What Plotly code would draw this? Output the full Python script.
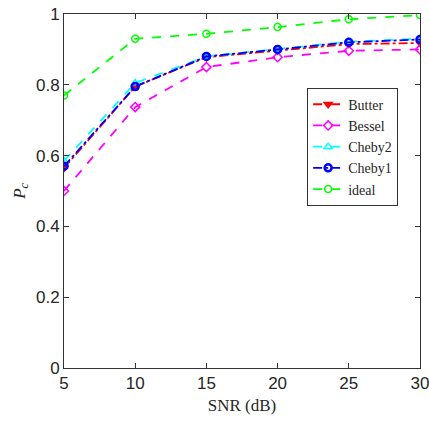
import plotly.graph_objects as go

snr = [5, 10, 15, 20, 25, 30]
butter = [0.565, 0.795, 0.878, 0.897, 0.915, 0.918]
bessel = [0.500, 0.737, 0.850, 0.878, 0.896, 0.900]
cheby2 = [0.585, 0.805, 0.880, 0.900, 0.922, 0.930]
cheby1 = [0.570, 0.795, 0.880, 0.900, 0.920, 0.928]
ideal = [0.770, 0.930, 0.944, 0.963, 0.985, 0.997]

series = [
    ("Butter", butter, "#ff0000", "dashdot", "triangle-down", 1.5),
    ("Bessel", bessel, "#ff00ff", "dash", "diamond-open", 1.5),
    ("Cheby2", cheby2, "#00ffff", "dash", "triangle-up-open", 1.5),
    ("Cheby1", cheby1, "#0000ff", "dashdot", "circle-open", 2.5),
    ("ideal", ideal, "#00ff00", "dash", "circle-open", 1.5),
]

fig = go.Figure()
for name, vals, color, dash, sym, mlw in series:
    fig.add_trace(go.Scatter(
        x=snr, y=vals, name=name, mode="lines+markers",
        line=dict(color=color, width=1.8, dash=dash),
        marker=dict(symbol=sym, size=7, color=color, line=dict(color=color, width=mlw)),
    ))

axis_common = dict(
    showline=True, linecolor="#333333", linewidth=1, mirror="ticks",
    ticks="inside", ticklen=5, tickcolor="#333333", showgrid=False, zeroline=False,
    automargin=False,
    tickfont=dict(family="Liberation Sans", size=17, color="#262626"),
)
fig.update_layout(
    width=440, height=421,
    margin=dict(l=64, r=20, t=14, b=53, pad=0),
    paper_bgcolor="white", plot_bgcolor="white",
    xaxis=dict(range=[5, 30], tickvals=[5, 10, 15, 20, 25, 30],
               title=dict(text="SNR (dB)", standoff=6,
                          font=dict(family="Liberation Serif", size=17, color="#262626")),
               **axis_common),
    yaxis=dict(range=[0, 1], tickvals=[0, 0.2, 0.4, 0.6, 0.8, 1],
               ticktext=["0", "0.2", "0.4", "0.6", "0.8", "1"],
               title=dict(text="<i>P<sub>c</sub></i>", standoff=6,
                          font=dict(family="Liberation Serif", size=17, color="#262626")),
               **axis_common),
    legend=dict(x=0.683, y=0.792, xanchor="left", yanchor="top",
                bgcolor="white", bordercolor="#333333", borderwidth=1,
                font=dict(family="Liberation Serif", size=14, color="#262626"),
                tracegroupgap=0, itemwidth=30),
    showlegend=True,
)

fig.write_html(
    "out.html",
    config={"displayModeBar": False},
    post_script="document.body.style.margin='0';document.body.style.overflow='hidden';"
                "document.documentElement.style.overflow='hidden';",
)
